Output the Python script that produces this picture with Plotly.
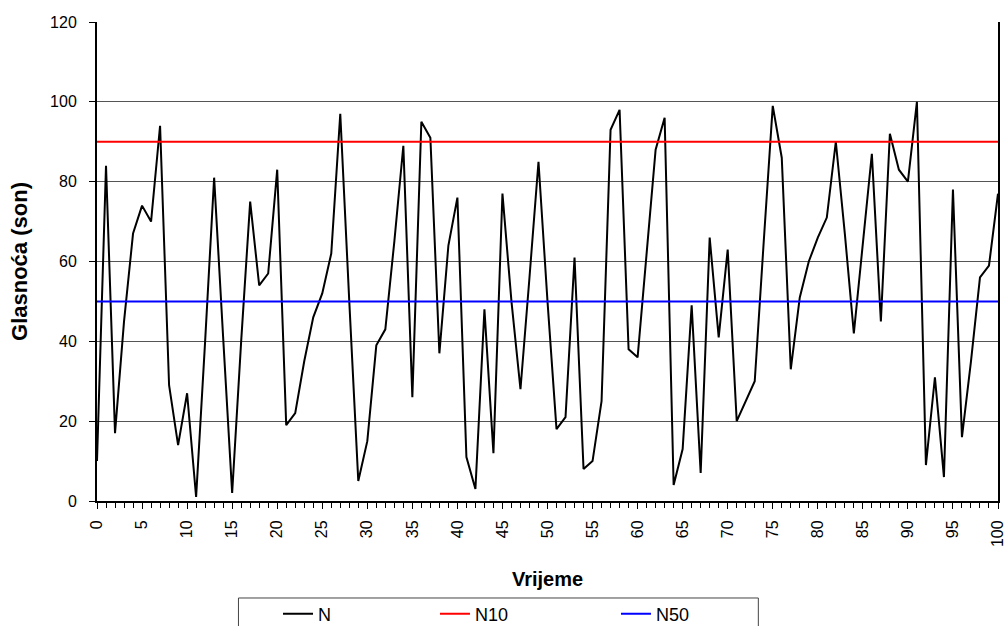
import plotly.graph_objects as go

time = list(range(0, 101))
N = [10, 84, 17, 45, 67, 74, 70, 94, 29, 14,
     27, 1, 40, 81, 41, 2, 40, 75, 54, 57,
     83, 19, 22, 35, 46, 52, 62, 97, 50, 5,
     15, 39, 43, 65, 89, 26, 95, 91, 37, 64,
     76, 11, 3, 48, 12, 77, 50, 28, 56, 85,
     50, 18, 21, 61, 8, 10, 25, 93, 98, 38,
     36, 62, 88, 96, 4, 13, 49, 7, 66, 41,
     63, 20, 25, 30, 65, 99, 86, 33, 51, 60,
     66, 71, 90, 67, 42, 65, 87, 45, 92, 83,
     80, 100, 9, 31, 6, 78, 16, 35, 56, 59,
     77]
N10_level = 90
N50_level = 50
x_ticks = list(range(0, 101, 5))
y_ticks = list(range(0, 121, 20))

FONT = "Arial, Liberation Sans, sans-serif"
LEG_FONT = dict(family=FONT, size=18, color="black")

fig = go.Figure()
fig.add_trace(go.Scatter(x=time, y=N, mode="lines", name="N", legend="legend",
                         line=dict(color="black", width=2)))
fig.add_trace(go.Scatter(x=[time[0], time[-1]], y=[N10_level, N10_level], mode="lines",
                         name="N10", legend="legend2", line=dict(color="#ff0000", width=2)))
fig.add_trace(go.Scatter(x=[time[0], time[-1]], y=[N50_level, N50_level], mode="lines",
                         name="N50", legend="legend3", line=dict(color="#0000ff", width=2)))

leg_common = dict(orientation="h", y=-0.1975, xanchor="left", yanchor="top",
                  itemwidth=30, font=LEG_FONT, bgcolor="rgba(0,0,0,0)", borderwidth=0)

fig.update_layout(
    width=1005, height=626,
    margin=dict(l=97, r=7, t=22, b=125, autoexpand=False),
    paper_bgcolor="white", plot_bgcolor="white",
    font=dict(family=FONT, size=14, color="black"),
    showlegend=True,
    legend=dict(x=0.2009, **leg_common),
    legend2=dict(x=0.3751, **leg_common),
    legend3=dict(x=0.576, **leg_common),
    shapes=[dict(type="rect", xref="paper", yref="paper",
                 x0=0.157, x1=0.734, y0=-0.29, y1=-0.2025,
                 line=dict(color="#444444", width=1), fillcolor="rgba(0,0,0,0)")],
)

fig.update_xaxes(
    range=[0, 100], tickmode="array", tickvals=x_ticks, ticktext=[str(v) for v in x_ticks],
    tickangle=-90, ticks="outside", ticklen=6, tickcolor="black", ticklabelstandoff=5,
    ticklabeloverflow="allow",
    minor=dict(dtick=1, ticks="outside", ticklen=5, tickcolor="black", showgrid=False),
    showgrid=False, zeroline=False, automargin=False,
    showline=True, linecolor="black", linewidth=2, mirror=False,
    tickfont=dict(family=FONT, size=16, color="black"),
    title=dict(text="<b>Vrijeme</b>", font=dict(family=FONT, size=20, color="black"), standoff=26),
)
fig.update_yaxes(
    range=[0, 120], tickmode="array", tickvals=y_ticks,
    ticks="outside", ticklen=6, tickcolor="black", ticklabelstandoff=9,
    showgrid=True, gridcolor="#555555", gridwidth=1, zeroline=False, automargin=False,
    showline=True, linecolor="black", linewidth=2, mirror=True,
    tickfont=dict(family=FONT, size=16, color="black"),
    title=dict(text="<b>Glasnoća (son)</b>", font=dict(family=FONT, size=22, color="black"), standoff=16),
)

fig.write_html("out.html", config={"displayModeBar": False},
               post_script="document.body.style.margin='0';document.body.style.overflow='hidden';")
